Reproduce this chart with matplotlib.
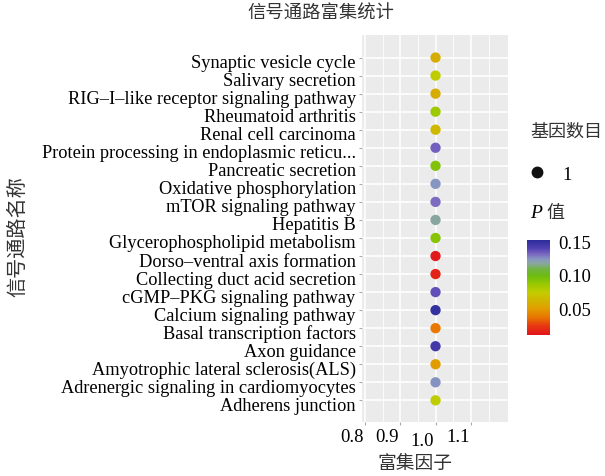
import matplotlib
matplotlib.use("Agg")
import matplotlib.pyplot as plt
import matplotlib.transforms as mtransforms
import numpy as np
from matplotlib.colors import LinearSegmentedColormap, Normalize
from matplotlib.lines import Line2D

plt.rcParams['font.family'] = ['Liberation Serif', 'Noto Sans CJK SC']

pathways = [
    "Synaptic vesicle cycle",
    "Salivary secretion",
    "RIG\u2013I\u2013like receptor signaling pathway",
    "Rheumatoid arthritis",
    "Renal cell carcinoma",
    "Protein processing in endoplasmic reticu...",
    "Pancreatic secretion",
    "Oxidative phosphorylation",
    "mTOR signaling pathway",
    "Hepatitis B",
    "Glycerophospholipid metabolism",
    "Dorso\u2013ventral axis formation",
    "Collecting duct acid secretion",
    "cGMP\u2013PKG signaling pathway",
    "Calcium signaling pathway",
    "Basal transcription factors",
    "Axon guidance",
    "Amyotrophic lateral sclerosis(ALS)",
    "Adrenergic signaling in cardiomyocytes",
    "Adherens junction",
]
rich_factor = [1.0] * 20
gene_count = [1] * 20
p_values = [0.058, 0.076, 0.058, 0.086, 0.065, 0.134, 0.094, 0.125, 0.132, 0.119,
            0.092, 0.013, 0.017, 0.138, 0.151, 0.038, 0.146, 0.051, 0.126, 0.076]

x_ticks = [0.8, 0.9, 1.0, 1.1]
cbar_ticks = [0.05, 0.10, 0.15]
p_min, p_max = 0.011, 0.154

stops = [(0.011, "#e0141c"), (0.025, "#e83a10"), (0.038, "#e87800"),
         (0.052, "#e0a000"), (0.062, "#d2b400"), (0.075, "#c2cc00"),
         (0.088, "#98c800"), (0.100, "#6cbc10"), (0.110, "#70b440"),
         (0.118, "#88a898"), (0.125, "#8898c0"), (0.133, "#7a66c0"),
         (0.142, "#5040b0"), (0.154, "#2c2c9c")]
cmap = LinearSegmentedColormap.from_list(
    "pcol", [((v - p_min) / (p_max - p_min), c) for v, c in stops])
norm = Normalize(p_min, p_max)

fig = plt.figure(figsize=(6.05, 4.76), dpi=100)
ax = fig.add_axes([362/605, 1-422/476, 146/605, 387/476])
ax.set_facecolor("#ebebeb")

n = len(pathways)
ypos = np.arange(n)[::-1]
ax.scatter(rich_factor, ypos, c=p_values, cmap=cmap, norm=norm, s=55,
           edgecolors='none', zorder=3)

ax.set_xlim(0.792, 1.205)
ax.set_ylim(-1.2, n - 1 + 1.25)
ax.set_xticks(x_ticks)
ax.set_xticks([0.85, 0.95, 1.05, 1.15], minor=True)
ax.set_xticklabels([f"{v:.1f}" for v in x_ticks], fontsize=13.5)
ax.set_yticks(ypos)
ax.set_yticklabels(pathways, fontsize=13.2)
ax.grid(which='major', color='white', linewidth=1.1, zorder=0)
ax.grid(which='minor', axis='x', color='white', linewidth=0.6, zorder=0)
ax.set_axisbelow(True)
for s in ax.spines.values():
    s.set_visible(False)
ax.tick_params(axis='both', which='major', length=2.5, color='#aaaaaa', pad=2)
ax.tick_params(axis='x', which='minor', length=0)

# label offsets (as in the reference: y labels sit slightly low, x labels shifted left)
for lab in ax.get_yticklabels():
    lab.set_transform(lab.get_transform() +
                      mtransforms.ScaledTranslation(0, -4/100, fig.dpi_scale_trans))
x_dy = [0, 0, -4, 0]
for lab, dy in zip(ax.get_xticklabels(), x_dy):
    lab.set_transform(lab.get_transform() +
                      mtransforms.ScaledTranslation(-13/100, (dy - 1)/100, fig.dpi_scale_trans))

fig.text(321/605, 1-14/476, "信号通路富集统计", ha='center', va='center', fontsize=13.2,
         family=['Noto Sans CJK SC'], color='#333333')
fig.text(415/605, 1-463/476, "富集因子", ha='center', va='center', fontsize=13.5,
         family=['Noto Sans CJK SC'], color='#333333')
fig.text(18/605, 1-237/476, "信号通路名称", ha='center', va='center', rotation=90,
         fontsize=14.5, family=['Noto Sans CJK SC'], color='#333333')

# size legend
fig.text(530/605, 1-132/476, "基因数目", ha='left', va='center', fontsize=13,
         family=['Noto Sans CJK SC'], color='#333333')
fig.add_artist(Line2D([537/605], [1-172/476], marker='o', markersize=7.5,
                      color='#111111', linestyle='none', transform=fig.transFigure))
fig.text(562/605, 1-175/476, "1", ha='left', va='center', fontsize=13.5)

# colorbar
fig.text(530/605, 1-213/476, "P", ha='left', va='center', fontsize=14,
         fontstyle='italic', family=['Liberation Serif'])
fig.text(546/605, 1-213/476, "值", ha='left', va='center', fontsize=13,
         family=['Noto Sans CJK SC'], color='#333333')
cax = fig.add_axes([527/605, 1-335/476, 23/605, 95/476])
sm = plt.cm.ScalarMappable(norm=norm, cmap=cmap)
cb = fig.colorbar(sm, cax=cax, ticks=cbar_ticks)
cb.outline.set_visible(False)
cb.ax.set_yticklabels([f"{v:.2f}" for v in cbar_ticks], fontsize=13.5)
cb.ax.tick_params(length=0, pad=6)

fig.savefig("out.png", dpi=100)
